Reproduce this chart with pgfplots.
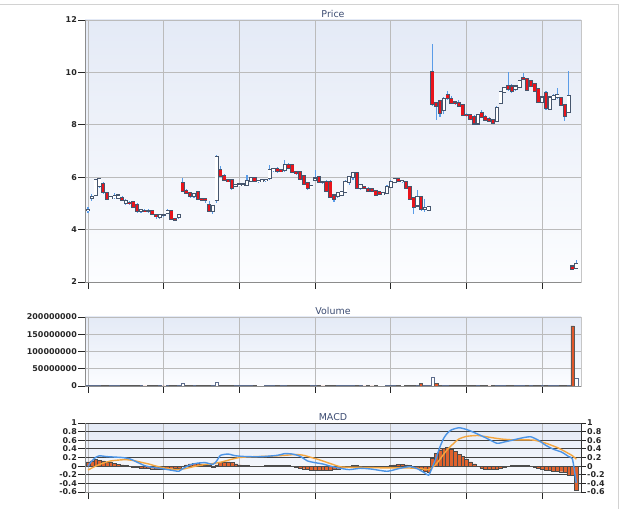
\documentclass[border=0pt]{standalone}
\usepackage{pgfplots}
\pgfplotsset{compat=1.18}
\usepackage{pgfplotstable}
\usepackage{fontspec}
\setmainfont{DejaVu Sans}

\definecolor{candlered}{HTML}{E8141C}
\definecolor{candleedge}{HTML}{46566E}
\definecolor{wick}{HTML}{5A9CE8}
\definecolor{volred}{HTML}{E2572A}
\definecolor{voledge}{HTML}{5C6C8C}
\definecolor{histfill}{HTML}{E0622E}
\definecolor{macdblue}{HTML}{4C94E6}
\definecolor{sigorange}{HTML}{F4A640}
\definecolor{bgtop}{HTML}{E4EAF6}
\definecolor{bgbot}{HTML}{FCFDFF}
\definecolor{gridgray}{HTML}{BBBBBB}
\definecolor{titlecol}{HTML}{3C4C72}

\pgfplotstableread{
i o h l c v vu hist
0 4.75 4.85 4.65 4.76 0.8 1 0.10
1 5.22 5.35 5.10 5.24 0.9 1 0.12
2 5.33 5.95 5.30 5.90 1.2 1 0.15
3 5.68 5.98 5.60 5.93 1.0 1 0.14
4 5.75 5.80 5.35 5.45 0.9 0 0.12
5 5.40 5.45 5.12 5.17 0.8 0 0.10
6 5.20 5.30 5.15 5.24 0.6 1 0.08
7 5.24 5.38 5.18 5.27 0.7 1 0.06
8 5.22 5.35 5.15 5.30 0.6 1 0.04
9 5.22 5.28 5.08 5.13 0.7 0 0.03
10 5.00 5.15 4.95 5.10 0.6 0 0.02
11 5.02 5.08 4.95 5.00 0.6 0 0.00
12 5.05 5.10 4.82 4.87 0.8 0 -0.02
13 4.94 5.00 4.65 4.70 0.9 0 -0.03
14 4.72 4.80 4.65 4.74 0.6 1 -0.04
15 4.72 4.78 4.66 4.71 0.5 0 -0.05
16 4.70 4.80 4.62 4.70 0.6 0 -0.05
17 4.70 4.74 4.56 4.60 0.7 0 -0.06
18 4.55 4.58 4.42 4.52 0.8 0 -0.07
19 4.47 4.60 4.42 4.56 0.7 1 -0.08
20 4.55 4.60 4.48 4.55 0.5 0 -0.08
21 4.62 4.78 4.58 4.72 0.7 1 -0.07
22 4.72 4.76 4.36 4.40 0.9 0 -0.06
23 4.40 4.45 4.33 4.38 0.6 0 -0.05
24 4.47 4.58 4.42 4.56 0.8 1 -0.04
25 5.78 5.96 5.45 5.48 7.0 1 -0.01
26 5.48 5.55 5.35 5.40 1.2 0 0.03
27 5.38 5.45 5.22 5.28 0.9 0 0.05
28 5.28 5.40 5.22 5.35 0.7 1 0.06
29 5.42 5.45 5.12 5.16 0.9 0 0.06
30 5.16 5.20 5.10 5.15 0.6 0 0.05
31 5.16 5.20 5.00 5.14 0.6 0 0.03
32 4.95 5.10 4.70 4.72 1.0 0 0.01
33 4.70 4.95 4.60 4.90 1.1 1 -0.02
34 5.13 6.85 5.00 6.78 10.0 1 0.03
35 6.28 6.42 6.00 6.05 2.5 0 0.08
36 6.05 6.12 5.85 5.88 1.2 0 0.10
37 5.88 5.95 5.80 5.86 0.8 0 0.10
38 5.90 5.95 5.50 5.58 1.0 0 0.08
39 5.68 5.75 5.62 5.70 0.7 1 0.05
40 5.70 5.76 5.66 5.72 0.6 1 0.03
41 5.70 5.78 5.65 5.72 0.6 1 0.02
42 5.71 6.10 5.65 5.86 0.8 1 0.01
43 5.86 6.00 5.80 5.96 0.7 1 0.00
44 5.96 6.00 5.80 5.84 0.7 0 0.00
45 5.84 5.90 5.78 5.85 0.5 1 0.00
46 5.86 5.92 5.82 5.88 0.5 1 0.00
47 5.88 5.95 5.82 5.90 0.6 1 0.01
48 5.96 6.45 5.90 6.28 1.0 1 0.01
49 6.28 6.35 6.20 6.30 0.7 1 0.01
50 6.32 6.38 6.15 6.22 0.7 0 0.01
51 6.26 6.30 6.18 6.24 0.6 1 0.01
52 6.28 6.66 6.20 6.47 0.9 1 0.01
53 6.47 6.55 6.30 6.34 0.8 0 0.01
54 6.45 6.50 6.15 6.19 0.8 0 0.00
55 6.18 6.22 6.10 6.15 0.6 0 -0.02
56 6.19 6.25 5.90 5.94 0.8 0 -0.04
57 6.03 6.08 5.70 5.73 0.9 0 -0.06
58 5.77 5.82 5.52 5.58 0.9 0 -0.08
59 5.62 5.70 5.58 5.65 0.6 1 -0.09
60 5.90 6.28 5.85 5.95 0.8 1 -0.09
61 6.00 6.05 5.80 5.83 0.7 0 -0.09
62 5.80 5.85 5.75 5.80 0.5 0 -0.10
63 5.83 5.88 5.45 5.48 0.9 0 -0.10
64 5.83 5.88 5.22 5.26 1.0 0 -0.09
65 5.30 5.35 5.05 5.17 0.8 0 -0.08
66 5.27 5.42 5.20 5.39 0.7 1 -0.06
67 5.33 5.48 5.28 5.45 0.6 1 -0.04
68 5.45 5.90 5.40 5.82 0.9 1 -0.02
69 5.81 6.06 5.72 6.00 0.8 1 0.00
70 6.00 6.20 5.90 6.15 0.8 1 0.01
71 6.15 6.18 5.55 5.60 1.0 0 0.01
72 5.58 5.75 5.50 5.70 0.6 1 0.00
73 5.62 5.68 5.55 5.60 0.5 0 -0.01
74 5.55 5.62 5.45 5.48 0.6 0 -0.02
75 5.56 5.60 5.42 5.47 0.5 0 -0.03
76 5.46 5.50 5.28 5.33 0.7 0 -0.03
77 5.44 5.48 5.32 5.35 0.5 1 -0.03
78 5.36 5.42 5.32 5.38 0.5 1 -0.02
79 5.40 5.70 5.35 5.64 0.7 1 0.00
80 5.64 5.88 5.60 5.83 0.8 1 0.02
81 5.82 5.95 5.78 5.92 0.6 1 0.03
82 5.94 5.98 5.80 5.84 0.6 0 0.04
83 5.84 5.88 5.78 5.85 0.5 1 0.04
84 5.81 5.85 5.55 5.60 0.8 0 0.03
85 5.62 5.66 5.12 5.18 1.2 0 0.02
86 5.22 5.26 4.60 4.88 1.5 0 -0.02
87 4.92 5.50 4.85 5.26 1.4 1 -0.04
88 5.26 5.30 4.72 4.79 7.5 0 -0.08
89 4.80 5.18 4.68 4.82 1.0 1 -0.12
90 4.76 4.90 4.72 4.87 0.8 1 -0.15
91 10.00 11.10 8.70 8.78 24.0 1 0.18
92 8.82 8.85 8.20 8.72 7.0 0 0.30
93 8.90 8.95 8.30 8.46 1.5 0 0.38
94 8.55 9.05 8.40 8.98 1.2 1 0.42
95 9.14 9.30 8.95 9.01 1.0 1 0.43
96 9.00 9.08 8.80 8.84 0.8 0 0.40
97 8.85 8.92 8.75 8.82 0.6 0 0.35
98 8.82 8.95 8.70 8.72 0.7 0 0.28
99 8.76 8.80 8.33 8.38 0.9 0 0.22
100 8.38 8.45 8.30 8.36 0.6 0 0.16
101 8.36 8.42 8.18 8.23 0.7 0 0.10
102 8.31 8.36 8.00 8.05 0.8 0 0.05
103 8.05 8.42 8.00 8.36 0.8 1 0.00
104 8.46 8.55 8.27 8.31 0.7 0 -0.04
105 8.31 8.36 8.14 8.18 0.6 0 -0.07
106 8.23 8.28 8.10 8.14 0.5 0 -0.08
107 8.18 8.22 8.05 8.08 0.6 0 -0.08
108 8.14 8.70 8.10 8.65 1.0 1 -0.07
109 8.82 9.30 8.78 9.26 1.1 1 -0.05
110 9.26 9.45 9.20 9.42 0.8 1 -0.02
111 9.49 10.00 9.30 9.36 0.9 0 0.00
112 9.46 9.55 9.20 9.30 0.7 0 0.01
113 9.36 9.50 9.30 9.46 0.6 1 0.02
114 9.46 9.72 9.40 9.68 0.8 1 0.02
115 9.80 9.98 9.70 9.74 0.8 1 0.02
116 9.74 9.78 9.28 9.33 0.9 0 0.01
117 9.68 9.72 9.45 9.49 0.7 1 0.00
118 9.55 9.60 9.25 9.30 0.7 0 -0.02
119 9.36 9.40 8.82 8.87 1.0 0 -0.05
120 8.87 9.08 8.82 9.04 0.7 1 -0.08
121 9.23 9.30 8.58 8.65 1.0 0 -0.10
122 8.62 9.10 8.58 9.04 0.8 1 -0.10
123 9.00 9.18 8.95 9.10 0.6 1 -0.11
124 9.05 9.40 9.00 9.12 0.6 1 -0.12
125 9.04 9.08 8.70 8.74 0.8 0 -0.13
126 8.74 8.78 8.15 8.33 1.0 0 -0.14
127 8.49 10.05 8.45 9.08 3.0 1 -0.20
128 2.59 2.62 2.48 2.50 174.0 0 -0.22
129 2.52 2.84 2.48 2.69 22.0 1 -0.55
}\price

\pgfplotstableread{
i m
0 0.00
1 0.12
2 0.20
3 0.24
5 0.22
7 0.21
9 0.20
11 0.17
13 0.09
15 0.01
17 -0.03
19 -0.05
21 -0.08
23 -0.11
24 -0.12
25 -0.06
27 0.03
29 0.07
31 0.08
33 0.04
34 0.12
35 0.25
37 0.28
39 0.24
42 0.22
46 0.22
50 0.25
52 0.29
54 0.28
56 0.23
58 0.12
60 0.08
62 0.05
64 0.00
66 -0.04
69 -0.08
72 -0.05
75 -0.07
79 -0.12
82 -0.06
85 -0.01
87 -0.06
89 -0.16
90 -0.21
91 -0.02
92 0.20
93 0.45
94 0.65
95 0.77
96 0.84
98 0.89
100 0.85
102 0.78
105 0.66
108 0.53
110 0.56
112 0.60
115 0.66
117 0.68
119 0.60
121 0.48
123 0.39
125 0.33
126 0.28
127 0.22
128 0.16
129 -0.39
}\macdline

\pgfplotstableread{
i s
0 -0.09
2 0.00
4 0.07
6 0.12
8 0.14
10 0.15
12 0.13
14 0.09
16 0.05
18 0.00
20 -0.04
23 -0.08
25 -0.07
27 -0.03
29 0.01
31 0.04
33 0.06
35 0.09
38 0.16
40 0.20
44 0.22
48 0.23
52 0.25
55 0.27
57 0.25
59 0.20
61 0.15
64 0.06
67 -0.02
72 -0.03
78 -0.04
84 -0.04
88 -0.06
90 -0.08
92 0.05
94 0.28
95 0.39
97 0.56
98 0.63
100 0.69
103 0.71
106 0.67
109 0.63
112 0.61
115 0.61
118 0.60
121 0.53
124 0.43
126 0.34
128 0.24
129 0.16
}\signalline

\pgfplotsset{
  panel/.style={
    scale only axis, width=496bp, anchor=south west,
    xmin=-0.8, xmax=130.25,
    axis lines*=left,
    axis line style={black!45, line width=0.8bp},
    axis background/.style={draw=gray!45, top color=bgtop, bottom color=bgbot},
    xtick={0,20,...,120}, xticklabels={},
    xmajorgrids, ymajorgrids,
    major grid style={gridgray, line width=0.8bp},
    tick align=outside, major tick length=7bp,
    tick style={black!85, line width=0.8bp},
    yticklabel style={font=\fontsize{8}{9}\selectfont\bfseries, text=black!85, inner sep=1bp},
    title style={font=\fontsize{9.5}{11}\selectfont, text=titlecol, yshift=-7bp},
  },
  errbar/.style={forget plot, draw=none, mark=none,
    error bars/.cd, y dir=both, y explicit, error mark=none},
}

\begin{document}
\begin{tikzpicture}
\useasboundingbox (0,0) rectangle (623bp,509bp);
\draw[gray!35, line width=1bp] (0,504bp) -- (618.5bp,504bp) -- (618.5bp,0);

% ---------------- Price ----------------
\begin{axis}[panel, at={(85bp,227bp)}, height=262bp,
  ymin=2, ymax=12, ytick={2,4,6,8,10,12}, yticklabels={2,4,6,8,10,12}, title=Price]
\addplot[errbar, error bar style={draw=wick, line width=1.1bp}]
  table[x=i, y expr={(\thisrow{h}+\thisrow{l})/2}, y error expr={(\thisrow{h}-\thisrow{l})/2}] {\price};
\addplot[errbar, error bar style={draw=candleedge, line width=4bp}]
  table[x=i, y expr={(\thisrow{o}+\thisrow{c})/2}, y error expr={abs(\thisrow{c}-\thisrow{o})/2+0.04}] {\price};
\addplot[restrict expr to domain={\thisrow{c}-\thisrow{o}}{0:100}, errbar, error bar style={draw=white, line width=2.5bp}]
  table[x=i, y expr={(\thisrow{o}+\thisrow{c})/2}, y error expr={abs(\thisrow{c}-\thisrow{o})/2}] {\price};
\addplot[restrict expr to domain={\thisrow{c}-\thisrow{o}}{-100:-0.001}, errbar, error bar style={draw=candlered, line width=2.5bp}]
  table[x=i, y expr={(\thisrow{o}+\thisrow{c})/2}, y error expr={abs(\thisrow{c}-\thisrow{o})/2}] {\price};
\end{axis}

% ---------------- Volume ----------------
\begin{axis}[panel, at={(85bp,123bp)}, height=69bp,
  ymin=0, ymax=200, ytick={0,50,100,150,200},
  yticklabels={0,50000000,100000000,150000000,200000000}, title=Volume]
\addplot[ybar, bar width=0.85, bar shift=0, fill=white, draw=voledge, line width=0.6bp,
  restrict expr to domain={\thisrow{vu}}{0.5:1.5}] table[x=i, y=v] {\price};
\addplot[ybar, bar width=0.85, bar shift=0, fill=volred, draw=black!65, line width=0.6bp,
  restrict expr to domain={\thisrow{vu}}{-0.5:0.5}] table[x=i, y=v] {\price};
\end{axis}

% ---------------- MACD ----------------
\begin{axis}[panel, at={(85bp,17bp)}, height=69bp,
  ymin=-0.6, ymax=1, ytick={-0.6,-0.4,-0.2,0,0.2,0.4,0.6,0.8,1},
  yticklabels={-0.6,-0.4,-0.2,0,0.2,0.4,0.6,0.8,1},
  y grid style={black!75, line width=0.9bp}, title=MACD]
\addplot[ybar, bar width=1, bar shift=0, fill=histfill, draw=black!70, line width=0.4bp]
  table[x=i, y=hist] {\price};
\addplot[sigorange, line width=1.4bp, smooth, tension=0.35] table[x=i, y=s] {\signalline};
\addplot[macdblue, line width=1.4bp, smooth, tension=0.35] table[x=i, y=m] {\macdline};
\end{axis}
\begin{axis}[scale only axis, width=496bp, height=69bp, at={(85bp,17bp)}, anchor=south west,
  xmin=-0.8, xmax=130.25, ymin=-0.6, ymax=1,
  axis y line*=right, axis x line=none,
  axis line style={black!80, line width=0.8bp},
  tick align=outside, major tick length=5bp, tick style={black!85, line width=0.8bp},
  ytick={-0.6,-0.4,-0.2,0,0.2,0.4,0.6,0.8,1},
  yticklabels={-0.6,-0.4,-0.2,0,0.2,0.4,0.6,0.8,1},
  yticklabel style={font=\fontsize{8}{9}\selectfont\bfseries, text=black!85, inner sep=1bp}]
\addplot[draw=none, forget plot] coordinates {(0,0)};
\end{axis}
\end{tikzpicture}
\end{document}
